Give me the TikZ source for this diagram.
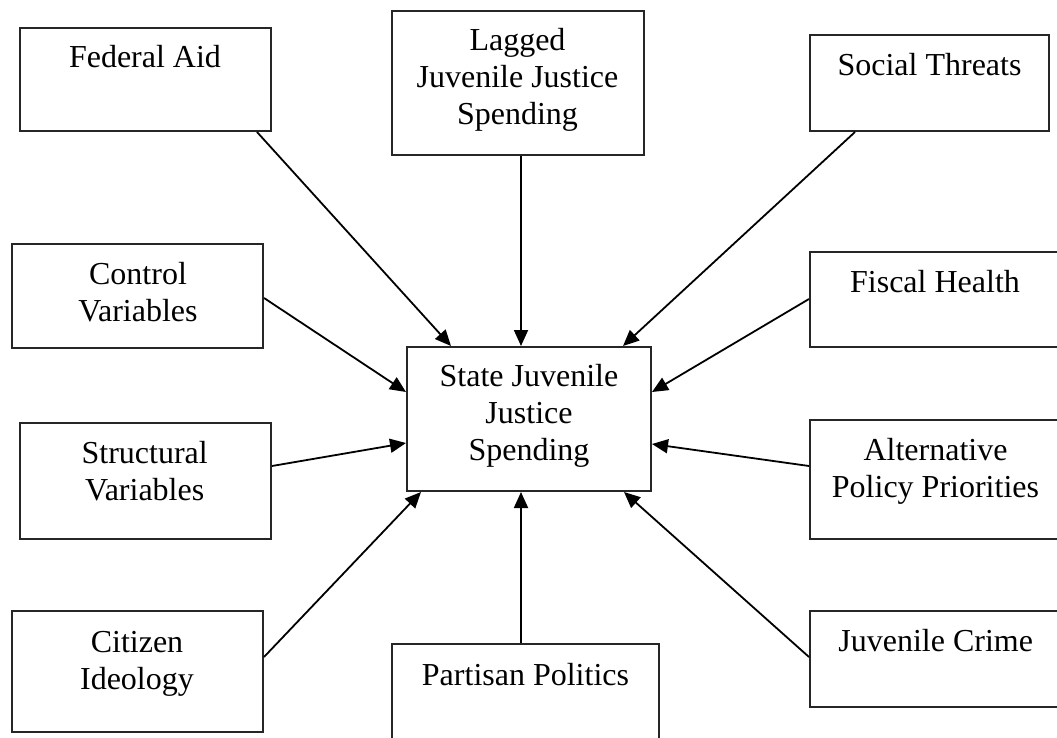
\documentclass[tikz,border=0pt]{standalone}
\usepackage{fontspec}
\setmainfont{Liberation Serif}
\usetikzlibrary{arrows.meta,calc}
\begin{document}
\begin{tikzpicture}[x=1pt,y=-1pt,
  box/.style={draw=black!85,line width=2pt,rectangle,inner sep=0pt},
  % labels are placed by the baseline of their last line
  lbl/.style={font=\fontsize{32}{37}\selectfont,align=center,inner sep=0pt,anchor=base},
  link/.style={line width=1.8pt,-{Triangle[length=16pt,width=14pt]}}]
\useasboundingbox (0,0) rectangle (1057,738);
\clip (0,0) rectangle (1057,738);

% boxes
\node[box,minimum width=251pt,minimum height=103pt] (fa)  at (145.5,79.5) {};
\node[box,minimum width=252pt,minimum height=144pt] (lag) at (518,83) {};
\node[box,minimum width=239pt,minimum height=96pt]  (soc) at (929.5,83) {};
\node[box,minimum width=251pt,minimum height=104pt] (ctl) at (137.5,296) {};
\node[box,minimum width=255pt,minimum height=95pt]  (fis) at (937.5,299.5) {};
\node[box,minimum width=244pt,minimum height=144pt] (st)  at (529,419) {};
\node[box,minimum width=251pt,minimum height=116pt] (str) at (145.5,481) {};
\node[box,minimum width=255pt,minimum height=119pt] (alt) at (937.5,479.5) {};
\node[box,minimum width=251pt,minimum height=121pt] (cit) at (137.5,671.5) {};
\node[box,minimum width=267pt,minimum height=116pt] (par) at (525.5,702) {};
\node[box,minimum width=255pt,minimum height=96pt]  (jc)  at (937.5,659) {};

% labels
\node[lbl] (tfa)  at (145,68)    {Federal Aid};
\node[lbl] (tlag) at (517.5,125) {Lagged\\Juvenile Justice\\Spending};
\node[lbl] (tsoc) at (929.5,76)  {Social Threats};
\node[lbl] (tctl) at (138,321)   {Control\\Variables};
\node[lbl] (tfis) at (935,292)   {Fiscal Health};
\node[lbl] (tst)  at (529,460)   {State Juvenile\\Justice\\Spending};
\node[lbl] (tstr) at (144.7,500) {Structural\\Variables};
\node[lbl] (talt) at (935.5,497) {Alternative\\Policy Priorities};
\node[lbl] (tcit) at (137,689)   {Citizen\\Ideology};
\node[lbl] (tpar) at (525.5,685) {Partisan Politics};
\node[lbl] (tjc)  at (935.7,651) {Juvenile Crime};

% connectors into the central box
\draw[link] ($(fa.south east)+(-15,0)$) -- ($(st.north west)+(45,0)$);
\draw[link] ($(lag.south)+(3,0)$)       -- ($(st.north)+(-8,0)$);
\draw[link] ($(soc.south west)+(46,0)$) -- ($(st.north east)+(-29,0)$);
\draw[link] ($(ctl.north east)+(0,55)$) -- ($(st.north west)+(0,46)$);
\draw[link] ($(fis.north west)+(0,48)$) -- ($(st.north east)+(0,46)$);
\draw[link] ($(str.north east)+(0,44)$) -- ($(st.north west)+(0,97)$);
\draw[link] ($(alt.north west)+(0,47)$) -- ($(st.north east)+(0,98)$);
\draw[link] ($(cit.north east)+(0,47)$) -- ($(st.south west)+(15,0)$);
\draw[link] ($(par.north)+(-4.5,0)$)    -- ($(st.south)+(-8,0)$);
\draw[link] ($(jc.north west)+(0,47)$)  -- ($(st.south east)+(-28,0)$);
\end{tikzpicture}
\end{document}
